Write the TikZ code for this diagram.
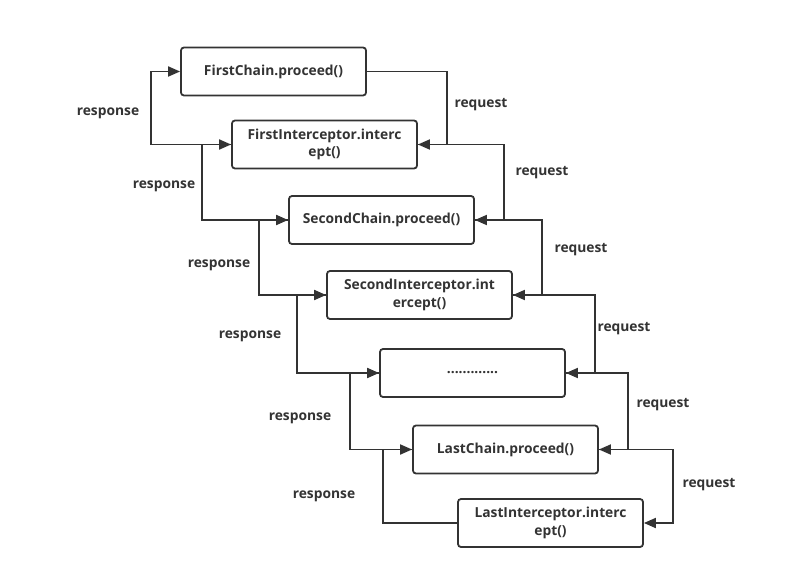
\documentclass[tikz,border=0pt]{standalone}
\usepackage{fontspec}
\setmainfont{Open Sans}
\usetikzlibrary{arrows.meta}
\definecolor{ink}{HTML}{333333}
\begin{document}
\begin{tikzpicture}[x=1pt,y=-1pt,
  box/.style={draw=ink,line width=1.8pt,rounded corners=3pt,minimum width=185pt,minimum height=48pt,align=center,inner sep=0pt,font=\fontsize{13.8}{17.5}\selectfont\bfseries,text=ink},
  conn/.style={draw=ink,line width=1.8pt,-{Triangle[length=12pt,width=10pt]}},
  lab/.style={font=\fontsize{13.8}{16}\selectfont\bfseries,text=ink}]
\useasboundingbox (0,0) rectangle (803,580);
\node[box] (b1) at (273.5,71.5) {FirstChain.proceed()};
\node[box] (b2) at (324.5,144.5) {FirstInterceptor.interc\\ept()};
\node[box] (b3) at (381.5,220) {SecondChain.proceed()};
\node[box] (b4) at (419.5,295) {SecondInterceptor.int\\ercept()};
\node[box] (b5) at (472.5,373) {.............};
\node[box] (b6) at (505.5,449.5) {LastChain.proceed()};
\node[box] (b7) at (550.5,523) {LastInterceptor.interc\\ept()};
% request edges
\draw[conn] (b1.east) -- (447,71.5) -- (447,144.5) -- (b2.east);
\draw[conn] (b2.east) -- (504,144.5) -- (504,220) -- (b3.east);
\draw[conn] (b3.east) -- (542,220) -- (542,295) -- (b4.east);
\draw[conn] (b4.east) -- (595,295) -- (595,373) -- (b5.east);
\draw[conn] (b5.east) -- (628,373) -- (628,449.5) -- (b6.east);
\draw[conn] (b6.east) -- (673,449.5) -- (673,523) -- (b7.east);
% response edges
\draw[conn] (b2.west) -- (151,144.5) -- (151,71.5) -- (b1.west);
\draw[conn] (b3.west) -- (202,220) -- (202,144.5) -- (b2.west);
\draw[conn] (b4.west) -- (259,295) -- (259,220) -- (b3.west);
\draw[conn] (b5.west) -- (297,373) -- (297,295) -- (b4.west);
\draw[conn] (b6.west) -- (350,449.5) -- (350,373) -- (b5.west);
\draw[conn] (b7.west) -- (383,523) -- (383,449.5) -- (b6.west);
% labels
\node[lab] (r1) at (481,105) {request};
\node[lab] (r2) at (542,173) {request};
\node[lab] (r3) at (581,250) {request};
\node[lab] (r4) at (624,329) {request};
\node[lab] (r5) at (663,405) {request};
\node[lab] (r6) at (709,485) {request};
\node[lab] (s1) at (108,113) {response};
\node[lab] (s2) at (164,186) {response};
\node[lab] (s3) at (219,265) {response};
\node[lab] (s4) at (250,336) {response};
\node[lab] (s5) at (300,418) {response};
\node[lab] (s6) at (324,496) {response};
\end{tikzpicture}
\end{document}
